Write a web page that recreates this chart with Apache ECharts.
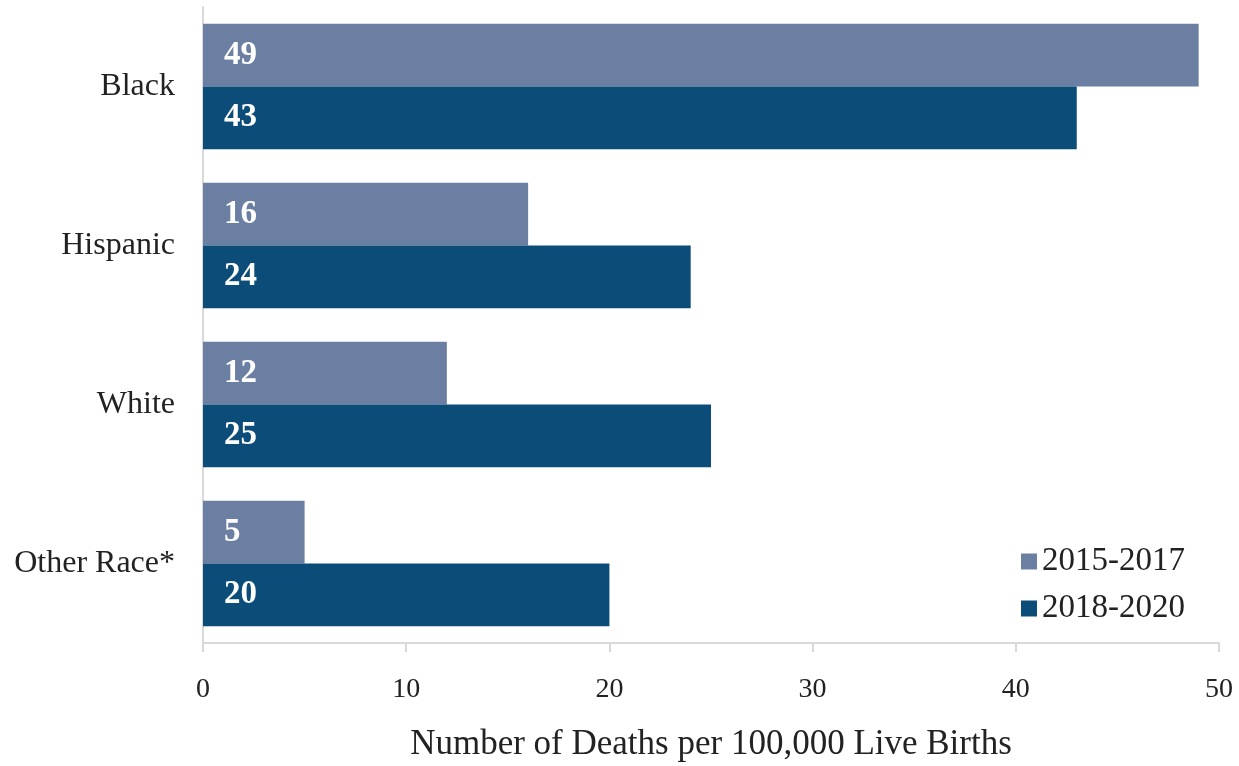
<!DOCTYPE html>
<html><head><meta charset="utf-8">
<script src="https://cdn.jsdelivr.net/npm/echarts@6/dist/echarts.min.js"></script>
<style>html,body{margin:0;padding:0;background:#fff}#c{width:1239px;height:766px}</style>
</head><body><div id="c"></div>
<script>
const categories = ['Black', 'Hispanic', 'White', 'Other Race*'];
const series2015 = [49, 16, 12, 5];
const series2018 = [43, 24, 25, 20];
const seriesNames = ['2015-2017', '2018-2020'];
const xTicks = [0, 10, 20, 30, 40, 50];

const font = '"Liberation Serif", "Times New Roman", serif';
const chart = echarts.init(document.getElementById('c'));
const lbl = {show: true, position: 'insideLeft', distance: 21, color: '#fff', fontFamily: font, fontWeight: 'bold', fontSize: 33};
chart.setOption({
  animation: false,
  textStyle: {fontFamily: font},
  grid: {left: 203, right: 20, top: 7, bottom: 123, containLabel: false, outerBoundsMode: 'none'},
  legend: {
    orient: 'vertical', right: 49, top: 540, itemWidth: 16, itemHeight: 16, itemGap: 14,
    icon: 'rect',
    textStyle: {fontFamily: font, fontSize: 33, color: '#222'},
    data: seriesNames
  },
  xAxis: {
    type: 'value', min: xTicks[0], max: xTicks[xTicks.length - 1], interval: 10,
    name: 'Number of Deaths per 100,000 Live Births', nameLocation: 'middle', nameGap: 84,
    nameTextStyle: {fontFamily: font, fontSize: 35, color: '#222'},
    axisLine: {show: true, lineStyle: {color: '#d9d9d9', width: 2}},
    axisTick: {show: true, length: 9, lineStyle: {color: '#d9d9d9', width: 2}},
    axisLabel: {fontFamily: font, fontSize: 28, color: '#222', margin: 33},
    splitLine: {show: false}
  },
  yAxis: {
    type: 'category', data: categories, inverse: true,
    axisLine: {show: true, lineStyle: {color: '#d9d9d9', width: 2}},
    axisTick: {show: false},
    axisLabel: {fontFamily: font, fontSize: 32, color: '#222', margin: 28}
  },
  series: [
    {name: seriesNames[0], type: 'bar', data: series2015, barGap: '0%', barCategoryGap: '21%',
     itemStyle: {color: '#6b7fa3'}, label: lbl},
    {name: seriesNames[1], type: 'bar', data: series2018, barGap: '0%', barCategoryGap: '21%',
     itemStyle: {color: '#0b4c78'}, label: lbl}
  ]
});
</script></body></html>
